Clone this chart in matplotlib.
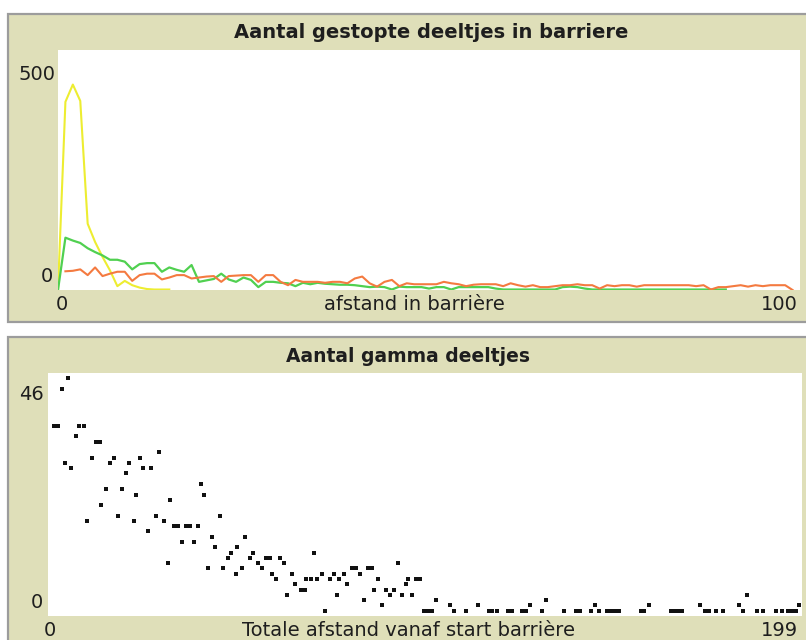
import numpy as np
import matplotlib
matplotlib.use("Agg")
import matplotlib.pyplot as plt
from matplotlib.patches import Rectangle

plt.rcParams['font.family'] = ['DejaVu Sans']

# top plot: stopped particles per depth in the barrier (one value per step 0..)
yellow_vals = [0, 392, 428, 394, 138, 100, 69, 41, 8, 19, 10, 5, 2, 1, 1, 1]
green_vals = [0, 109, 103, 98, 87, 79, 72, 63, 63, 59, 43, 54, 56, 56, 38, 47,
              42, 38, 52, 17, 20, 23, 34, 22, 17, 26, 21, 6, 17, 17, 15, 14,
              8, 15, 12, 15, 13, 12, 11, 11, 10, 8, 6, 7, 6, 1, 7, 6,
              6, 6, 3, 6, 6, 1, 6, 6, 6, 6, 6, 3, 1, 1, 1, 1,
              1, 1, 1, 1, 6, 7, 6, 3, 1, 1, 1, 1, 1, 1, 1, 1,
              1, 1, 1, 1, 1, 1, 1, 1, 1, 1, 1]
orange_start = 1
orange_vals = [39, 40, 43, 31, 47, 29, 34, 38, 38, 19, 31, 34, 34, 22, 26, 31,
               31, 24, 26, 28, 29, 17, 29, 30, 31, 31, 17, 31, 31, 17, 10, 21,
               17, 17, 17, 15, 17, 17, 14, 24, 28, 14, 7, 17, 21, 8, 14, 12,
               12, 12, 12, 17, 14, 12, 8, 11, 12, 12, 12, 8, 14, 10, 7, 10,
               6, 6, 8, 10, 10, 12, 10, 10, 3, 10, 8, 10, 10, 7, 10, 10,
               10, 10, 10, 10, 10, 8, 10, 1, 6, 6, 8, 10, 7, 10, 8, 10,
               10, 10, 0]

# bottom plot: gamma particles vs distance
gamma_x = [1.6, 2.6, 3.6, 4.6, 5.2, 6.2, 7.3, 8.3, 9.4, 10.4, 11.5, 12.6, 13.6, 14.1,
           15.2, 16.3, 17.3, 18.4, 19.4, 20.5, 21.5, 22.6, 23.1, 24.2, 25.2, 26.3,
           27.3, 28.4, 29.4, 30.5, 31.6, 32.1, 33.2, 34.3, 35.4, 36.4, 37.5, 38.5,
           39.6, 40.5, 41.1, 42.1, 43.2, 44.2, 45.3, 46.3, 47.4, 48.4, 49.5, 50.0,
           51.1, 52.1, 53.2, 54.2, 55.3, 56.4, 57.5, 58.6, 59.0, 60.1, 61.1, 62.2,
           63.2, 64.3, 65.3, 66.7, 67.7, 68.2, 69.3, 70.1, 71.1, 72.2, 73.2, 74.3,
           75.4, 76.4, 76.9, 78.0, 79.0, 80.3, 81.4, 82.4, 83.5, 84.5, 85.6, 86.1,
           87.1, 88.2, 89.3, 90.3, 91.4, 92.4, 93.5, 94.4, 95.1, 96.2, 97.2, 98.2,
           99.3, 100.3, 101.4, 102.4, 106.1, 107.2, 110.3, 113.5, 116.3, 117.3, 118.4,
           121.4, 122.5, 125.1, 126.2, 127.3, 130.3, 131.5, 136.2, 139.4, 140.5,
           143.3, 144.3, 145.4, 147.6, 148.6, 149.7, 150.8, 156.4, 157.4, 158.7,
           164.3, 165.3, 166.4, 167.4, 172.1, 173.4, 174.5, 176.3, 178.1, 182.3,
           183.4, 184.4, 187.1, 188.7, 192.2, 193.7, 195.3, 196.3, 197.4, 198.3]
gamma_y = [36, 36, 43, 29, 45, 28, 34, 36, 36, 18, 30, 33, 33, 21,
           24, 29, 30, 19, 24, 27, 29, 18, 23, 30, 28, 16,
           28, 19, 31, 18, 10, 22, 17, 17, 14, 17, 17, 14,
           17, 25, 23, 9, 15, 13, 19, 9, 11, 12, 8, 13,
           9, 15, 11, 12, 10, 9, 11, 11, 8, 7, 11, 10,
           4, 8, 6, 5, 5, 7, 7, 12, 7, 8, 1, 7,
           8, 4, 7, 8, 6, 9, 9, 8, 3, 9, 9, 5,
           7, 2, 5, 4, 5, 10, 4, 6, 7, 4, 7, 7,
           1, 1, 1, 3, 2, 1, 1, 2, 1, 1, 1,
           1, 1, 1, 1, 2, 1, 3, 1, 1, 1,
           1, 2, 1, 1, 1, 1, 1, 1, 1, 2,
           1, 1, 1, 1, 2, 1, 1, 1, 1, 2,
           1, 4, 1, 1, 1, 1, 1, 1, 1, 2]

W, H = 806, 640
BEIGE = '#dfdfb9'
TXT = '#1e1e1e'


def fx(x):
    return x / W


def fy(y):
    return 1 - y / H


def panel(x0, y0, x1, y1):
    r = Rectangle((fx(x0), fy(y1)), fx(x1) - fx(x0), fy(y0) - fy(y1),
                  transform=fig.transFigure, facecolor=BEIGE,
                  edgecolor='#9c9c9c', lw=1.6, zorder=-5)
    fig.patches.append(r)


def label(x, y, s, **kw):
    fig.text(fx(x), fy(y), s, va='center', color=TXT, **kw)


fig = plt.figure(figsize=(W / 100, H / 100), dpi=100)
fig.patch.set_facecolor('white')

panel(8, 14, 810, 322)
panel(8, 337, 810, 650)

# top plot
ax1 = fig.add_axes([fx(58), fy(290), fx(800) - fx(58), fy(50) - fy(290)])
ax1.set_zorder(2)
ax1.set_facecolor('white')
ax1.plot(np.arange(len(yellow_vals)), yellow_vals, color='#eded31', lw=1.5)
ax1.plot(np.arange(len(green_vals)), green_vals, color='#50d050', lw=1.6)
ax1.plot(np.arange(len(orange_vals)) + orange_start, orange_vals,
         color='#f47a40', lw=1.5)
ax1.set_xlim(0, 100)
ax1.set_ylim(0, 500)
ax1.set_xticks([])
ax1.set_yticks([])
for s in ax1.spines.values():
    s.set_visible(False)

label(431, 33, 'Aantal gestopte deeltjes in barriere', ha='center',
      fontsize=14, fontweight='bold')
label(55, 74, '500', ha='right', fontsize=14)
label(53, 277, '0', ha='right', fontsize=14)
label(62, 305, '0', ha='center', fontsize=14)
label(798, 305, '100', ha='right', fontsize=14)
label(414, 305, 'afstand in barrière', ha='center', fontsize=14)

# bottom plot
ax2 = fig.add_axes([fx(48), fy(616), fx(802) - fx(48), fy(373) - fy(616)])
ax2.set_zorder(2)
ax2.set_facecolor('white')
ax2.plot(gamma_x, gamma_y, 's', color='#111111', markersize=2.6, mew=0)
ax2.set_xlim(0, 199)
ax2.set_ylim(0, 46)
ax2.set_xticks([])
ax2.set_yticks([])
for s in ax2.spines.values():
    s.set_visible(False)

label(408, 357, 'Aantal gamma deeltjes', ha='center',
      fontsize=13.5, fontweight='bold')
label(44, 395, '46', ha='right', fontsize=14)
label(43, 602, '0', ha='right', fontsize=14)
label(50, 630, '0', ha='center', fontsize=14)
label(798, 630, '199', ha='right', fontsize=14)
label(409, 630, 'Totale afstand vanaf start barrière', ha='center', fontsize=14)

fig.savefig('out.png', dpi=100)
